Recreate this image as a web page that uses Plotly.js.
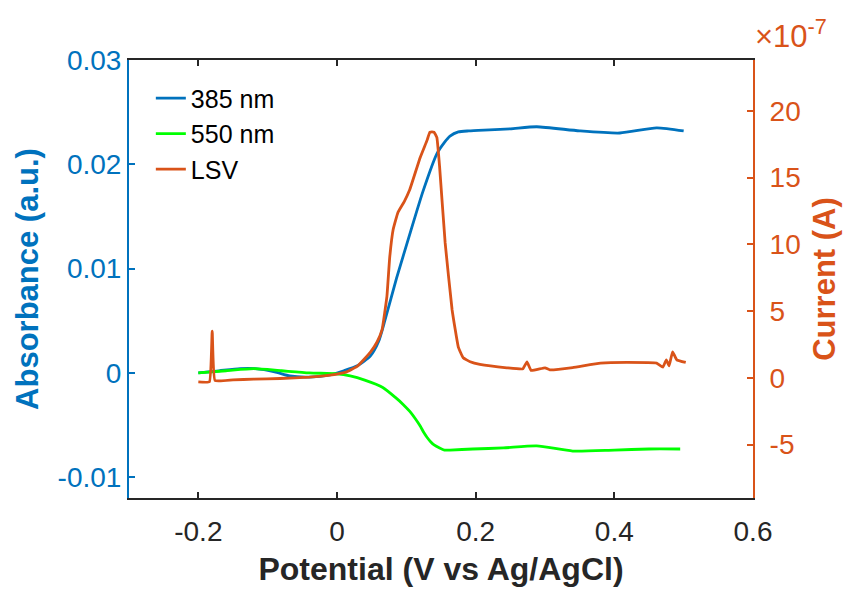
<!DOCTYPE html>
<html>
<head>
<meta charset="utf-8">
<script src="https://cdn.plot.ly/plotly-3.0.1.min.js"></script>
<style>html,body{margin:0;padding:0;background:#fff;}#chart{width:848px;height:590px;}</style>
</head>
<body>
<div id="chart"></div>
<script>
// 385 nm absorbance (left axis)
const x385 = [-0.2, -0.17, -0.14, -0.118, -0.09, -0.068, -0.04, -0.01, 0.01, 0.03, 0.048, 0.06, 0.069, 0.086, 0.105, 0.124, 0.144, 0.155, 0.163, 0.175, 0.19, 0.22, 0.25, 0.288, 0.35, 0.408, 0.461, 0.5];
const y385 = [0, 0.0002, 0.0004, 0.0004, 0.0001, -0.0003, -0.0004, -0.0002, 0.0002, 0.0007, 0.0016, 0.003, 0.005, 0.0091, 0.0133, 0.0174, 0.021, 0.0221, 0.0227, 0.0231, 0.0232, 0.0233, 0.0234, 0.0236, 0.0232, 0.0230, 0.0235, 0.0232];

// 550 nm absorbance (left axis)
const x550 = [-0.2, -0.16, -0.12, -0.08, -0.04, 0, 0.019, 0.04, 0.066, 0.085, 0.095, 0.105, 0.113, 0.12, 0.125, 0.13, 0.135, 0.14, 0.148, 0.155, 0.163, 0.196, 0.24, 0.288, 0.34, 0.4, 0.45, 0.495];
const y550 = [0, 0.0002, 0.0004, 0.0002, 0, -0.0001, -0.0003, -0.0007, -0.0014, -0.0024, -0.003, -0.0037, -0.0044, -0.0051, -0.0057, -0.0062, -0.0066, -0.0069, -0.0072, -0.0074, -0.0074, -0.0073, -0.0072, -0.0070, -0.0075, -0.0074, -0.0073, -0.0073];

// LSV current, units of 1e-7 A (right axis)
const xLSV = [-0.2, -0.184, -0.18, -0.176, -0.15, -0.12, -0.082, -0.04, -0.01, 0.014, 0.03, 0.048, 0.058, 0.065, 0.072, 0.076, 0.081, 0.088, 0.097, 0.105, 0.12, 0.13, 0.134, 0.14, 0.144, 0.148, 0.156, 0.166, 0.175, 0.182, 0.192, 0.206, 0.245, 0.268, 0.274, 0.28, 0.3, 0.307, 0.34, 0.38, 0.418, 0.461, 0.47, 0.475, 0.479, 0.484, 0.49, 0.503];
const yLSV = [-0.3, -0.3, 3.5, -0.2, -0.15, -0.1, -0.05, 0.05, 0.2, 0.45, 0.9, 1.9, 2.7, 3.6, 6.1, 9, 11.1, 12.4, 13.2, 14.1, 16.5, 17.8, 18.4, 18.4, 18.0, 15.8, 10.1, 5.1, 2.3, 1.5, 1.2, 1.0, 0.75, 0.67, 1.2, 0.55, 0.75, 0.6, 0.77, 1.1, 1.15, 1.1, 0.8, 1.35, 0.9, 1.95, 1.35, 1.15];

const xTickVals = [-0.2, 0, 0.2, 0.4, 0.6];
const xTickText = ['-0.2', '0', '0.2', '0.4', '0.6'];
const yTickVals = [-0.01, 0, 0.01, 0.02, 0.03];
const yTickText = ['-0.01', '0', '0.01', '0.02', '0.03'];
const y2TickVals = [-5, 0, 5, 10, 15, 20];
const y2TickText = ['-5', '0', '5', '10', '15', '20'];

const BLUE = '#0072BD', ORANGE = '#D95319', GREEN = '#00FF00', DARK = '#262626';
const FONT = 'Liberation Sans, Arial, Helvetica, sans-serif';

const traces = [
  {x: x385, y: y385, name: '385 nm', mode: 'lines', line: {color: BLUE, width: 2.8, shape: 'spline', smoothing: 0.6}, yaxis: 'y'},
  {x: x550, y: y550, name: '550 nm', mode: 'lines', line: {color: GREEN, width: 2.8, shape: 'spline', smoothing: 0.6}, yaxis: 'y'},
  {x: xLSV, y: yLSV, name: 'LSV', mode: 'lines', line: {color: ORANGE, width: 2.8, shape: 'spline', smoothing: 0.3}, yaxis: 'y2'}
];

const layout = {
  width: 848, height: 590,
  margin: {l: 129, r: 95, t: 60, b: 92},
  paper_bgcolor: '#fff', plot_bgcolor: '#fff',
  font: {family: FONT, size: 28, color: DARK},
  showlegend: true,
  legend: {x: 0.035, y: 0.965, xanchor: 'left', yanchor: 'top', bgcolor: 'rgba(0,0,0,0)', borderwidth: 0,
           font: {family: FONT, size: 25, color: '#000'}, tracegroupgap: 0},
  xaxis: {
    range: [-0.3, 0.6], tickvals: xTickVals, ticktext: xTickText,
    ticks: 'inside', ticklen: 6, tickwidth: 2, tickcolor: DARK,
    showline: true, linecolor: DARK, linewidth: 2, mirror: 'ticks',
    showgrid: false, zeroline: false, ticklabelstandoff: 7,
    tickfont: {family: FONT, size: 28, color: DARK},
    title: {text: '<b>Potential (V vs Ag/AgCl)</b>', font: {family: FONT, size: 32, color: DARK}, standoff: 12}
  },
  yaxis: {
    range: [-0.012, 0.03], tickvals: yTickVals, ticktext: yTickText,
    ticks: 'inside', ticklen: 6, tickwidth: 2, tickcolor: BLUE,
    showline: true, linecolor: BLUE, linewidth: 2,
    showgrid: false, zeroline: false,
    tickfont: {family: FONT, size: 28, color: BLUE},
    title: {text: '<b>Absorbance (a.u.)</b>', font: {family: FONT, size: 31, color: BLUE}, standoff: 10}
  },
  yaxis2: {
    overlaying: 'y', side: 'right',
    range: [-9, 23.8], tickvals: y2TickVals, ticktext: y2TickText,
    ticks: 'inside', ticklen: 6, tickwidth: 2, tickcolor: ORANGE,
    showline: true, linecolor: ORANGE, linewidth: 2,
    showgrid: false, zeroline: false, ticklabelstandoff: 9,
    tickfont: {family: FONT, size: 28, color: ORANGE},
    title: {text: '<b>Current (A)</b>', font: {family: FONT, size: 31, color: ORANGE}, standoff: 14}
  },
  annotations: [{
    xref: 'paper', yref: 'paper', x: 1, y: 1, xanchor: 'left', yanchor: 'bottom', yshift: 4, xshift: 0,
    showarrow: false, text: '×10<sup>-7</sup>', font: {family: FONT, size: 31, color: ORANGE}
  }]
};

Plotly.newPlot('chart', traces, layout, {displayModeBar: false, staticPlot: true});
</script>
</body>
</html>
